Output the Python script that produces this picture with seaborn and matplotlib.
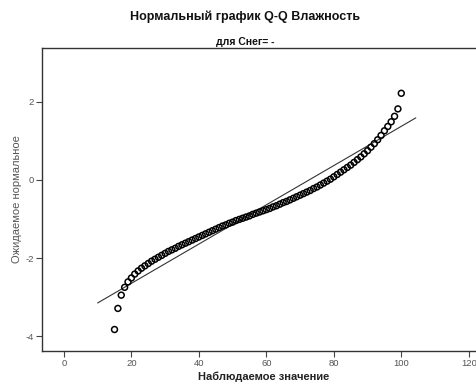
import numpy as np
import pandas as pd
import seaborn as sns
import matplotlib
matplotlib.use('Agg')
import matplotlib.pyplot as plt

observed = list(range(15, 101))
expected = [
    -3.83, -3.29, -2.95, -2.75, -2.61, -2.51, -2.41, -2.33, -2.26, -2.20,
    -2.14, -2.08, -2.03, -1.98, -1.93, -1.88, -1.83, -1.79, -1.75, -1.70,
    -1.66, -1.62, -1.58, -1.54, -1.50, -1.46, -1.42, -1.38, -1.34, -1.30,
    -1.26, -1.22, -1.18, -1.15, -1.11, -1.08, -1.04, -1.01, -0.98, -0.95,
    -0.92, -0.88, -0.85, -0.82, -0.79, -0.76, -0.73, -0.69, -0.66, -0.62,
    -0.58, -0.55, -0.51, -0.47, -0.43, -0.39, -0.35, -0.31, -0.27, -0.22,
    -0.18, -0.13, -0.08, -0.03, 0.02, 0.08, 0.14, 0.20, 0.26, 0.32,
    0.38, 0.45, 0.52, 0.59, 0.67, 0.75, 0.84, 0.93, 1.03, 1.14,
    1.26, 1.37, 1.49, 1.63, 1.82, 2.22,
]

# reference line ends
line_x = [10.0, 104.3]
line_y = [-3.15, 1.59]

x_ticks = [0, 20, 40, 60, 80, 100, 120]
y_ticks = [-4, -2, 0, 2]

title = 'Нормальный график Q-Q Влажность'
subtitle = 'для Снег= -'
x_label = 'Наблюдаемое значение'
y_label = 'Ожидаемое нормальное'

sns.set_style('white')
plt.rcParams['font.family'] = ['Liberation Sans', 'DejaVu Sans']
plt.rcParams['axes.unicode_minus'] = False

df = pd.DataFrame({'obs': observed, 'exp': expected})
line_df = pd.DataFrame({'x': line_x, 'y': line_y})

fig = plt.figure(figsize=(4.77, 3.83), dpi=100)
ax = fig.add_axes([0.088, 0.0836, 0.911, 0.7911])

sns.lineplot(data=line_df, x='x', y='y', ax=ax, color='#333333', linewidth=0.8)
sns.scatterplot(data=df, x='obs', y='exp', ax=ax, marker='o', s=18,
                facecolor='none', edgecolor='black', linewidth=1.1, zorder=3)

ax.set_xlim(-6.5, 122.3)
ax.set_ylim(-4.38, 3.38)
ax.set_xticks(x_ticks)
ax.set_yticks(y_ticks)
ax.tick_params(axis='both', direction='out', length=4, width=0.8,
               color='#444444', labelsize=6.8, labelcolor='#555555', pad=2,
               bottom=True, left=True)

for side in ['left', 'bottom', 'top', 'right']:
    ax.spines[side].set_color('#333333')
    ax.spines[side].set_linewidth(1.0)

ax.set_xlabel(x_label, fontsize=8, fontweight='bold', color='#222222')
ax.set_ylabel(y_label, fontsize=8, color='#555555')
ax.xaxis.set_label_coords(0.51, -0.068)
ax.yaxis.set_label_coords(-0.046, 0.5)

fig.text(245 / 477, 1 - 17 / 383, title, ha='center', va='center',
         fontsize=9, fontweight='bold', color='#111111')
fig.text(245 / 477, 1 - 42 / 383, subtitle, ha='center', va='center',
         fontsize=7.5, fontweight='bold', color='#111111')

fig.savefig('out.png', dpi=100)
